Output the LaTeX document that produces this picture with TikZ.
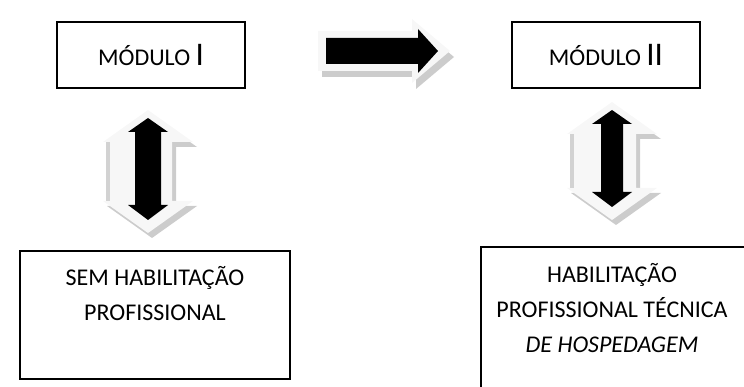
\documentclass[tikz,border=0pt]{standalone}
\usepackage{fontspec}
\setmainfont{Carlito}
\usetikzlibrary{positioning}

\begin{document}
\begin{tikzpicture}[x=1pt,y=-1pt,
  every node/.style={font=\fontsize{24}{35}\selectfont},
  modbox/.style={draw,line width=1.2pt,minimum width=188pt,minimum height=66pt,inner sep=0pt},
  infobox/.style={draw,line width=1.2pt,inner sep=0pt},
  infotext/.style={align=center,inner sep=0pt,anchor=north},
  outerarr/.style={fill=gray!6},
  shadearr/.style={fill=gray!40},
  innerarr/.style={fill=black}]
  \useasboundingbox (0,0) rectangle (744,387);
  % boxes
  \node[modbox] (m1) at (151,55) {MÓDULO {\fontsize{33}{33}\selectfont I}};
  \node[modbox] (m2) at (606,55) {MÓDULO {\fontsize{33}{33}\selectfont II}};
  \node[infobox,minimum width=270pt,minimum height=128pt] (sem) at (155,315) {};
  \node[infobox,minimum width=265pt,minimum height=145pt] (hab) at (613.5,319.5) {};
  \node[infotext] (semtxt) at (155,266) {SEM HABILITAÇÃO\\PROFISSIONAL};
  \node[infotext] (habtxt) at (612,263) {HABILITAÇÃO\\PROFISSIONAL TÉCNICA\\\textit{DE HOSPEDAGEM}};
  % big arrow between the modules
  \path[shadearr,shift={(4,6)}] (318,31) -- (412,31) -- (412,19) -- (450,51) -- (412,83) -- (412,71) -- (318,71) -- cycle;
  \path[outerarr] (318,31) -- (412,31) -- (412,19) -- (450,51) -- (412,83) -- (412,71) -- (318,71) -- cycle;
  \path[innerarr] (326,38) -- (418,38) -- (418,29) -- (438,51) -- (418,73) -- (418,64) -- (326,64) -- cycle;
  % up-down arrows
  \foreach \cx/\t/\h/\sw in {148/110/123/13, 612/102/118/11}{
    \begin{scope}[shift={(\cx,\t)}]
      \path[shadearr,shift={(4,5)}] (0,0) -- (45,32) -- (24,32) -- (24,\h-32) -- (45,\h-32)
        -- (0,\h) -- (-45,\h-32) -- (-42,\h-32) -- (-42,32) -- (-45,32) -- cycle;
      \path[outerarr] (0,0) -- (45,32) -- (24,32) -- (24,\h-32) -- (45,\h-32)
        -- (0,\h) -- (-45,\h-32) -- (-42,\h-32) -- (-42,32) -- (-45,32) -- cycle;
      \fill[gray!35] (-42,32) rectangle (-38,\h-32);
      \path[innerarr] (0,8) -- (20,22) -- (\sw,22) -- (\sw,\h-28) -- (20,\h-28)
        -- (0,\h-13) -- (-20,\h-28) -- (-\sw,\h-28) -- (-\sw,22) -- (-20,22) -- cycle;
    \end{scope}
  }
\end{tikzpicture}
\end{document}
